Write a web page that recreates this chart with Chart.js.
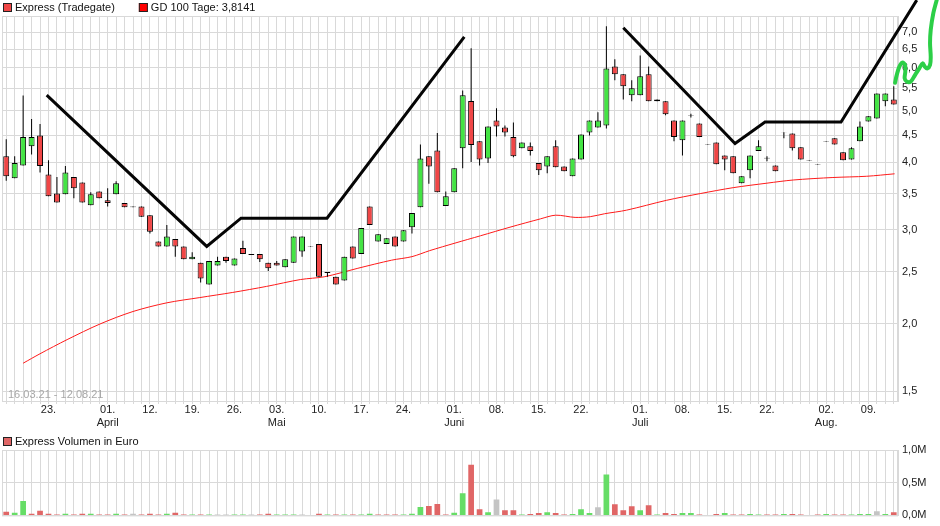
<!DOCTYPE html>
<html>
<head>
<meta charset="utf-8">
<script src="https://cdn.jsdelivr.net/npm/chart.js@4.4.0/dist/chart.umd.min.js"></script>
<style>
  body { margin: 0; background: #fff; }
  canvas { display: block; }
</style>
</head>
<body>
<canvas id="priceChart" width="940" height="432"></canvas>
<canvas id="volumeChart" width="940" height="94"></canvas>
<script>
// Trading days (Tradegate), 16.03.21 - 12.08.21
const days = [
  "16.03","17.03","18.03","19.03","22.03","23.03","24.03","25.03","26.03","29.03","30.03","31.03",
  "01.04","06.04","07.04","08.04","09.04","12.04","13.04","14.04","15.04","16.04","19.04","20.04","21.04","22.04","23.04","26.04","27.04","28.04","29.04","30.04",
  "03.05","04.05","05.05","06.05","07.05","10.05","11.05","12.05","13.05","14.05","17.05","18.05","19.05","20.05","21.05","24.05","25.05","26.05","27.05","28.05","31.05",
  "01.06","02.06","03.06","04.06","07.06","08.06","09.06","10.06","11.06","14.06","15.06","16.06","17.06","18.06","21.06","22.06","23.06","24.06","25.06","28.06","29.06","30.06",
  "01.07","02.07","05.07","06.07","07.07","08.07","09.07","12.07","13.07","14.07","15.07","16.07","19.07","20.07","21.07","22.07","23.07","26.07","27.07","28.07","29.07","30.07",
  "02.08","03.08","04.08","05.08","06.08","09.08","10.08","11.08","12.08"
];

// x axis labels
const tickDays = ["23.03","01.04","12.04","19.04","26.04","03.05","10.05","17.05","24.05","01.06","08.06","15.06","22.06","01.07","08.07","15.07","22.07","02.08","09.08"];
const monthTickDays = ["01.04","03.05","01.06","01.07","02.08"];
const monthNames = ["April","Mai","Juni","Juli","Aug."];

const priceTicks = [1.5, 2.0, 2.5, 3.0, 3.5, 4.0, 4.5, 5.0, 5.5, 6.0, 6.5, 7.0];
const volumeTicks = [0, 0.5, 1.0];

// Candles (EUR)
const openPrices = [
  4.11,3.74,3.95,4.29,4.49,3.80,3.50,3.49,3.76,3.67,
  3.33,3.53,3.40,3.49,3.36,3.31,3.31,3.19,2.85,2.79,
  2.88,2.79,2.64,2.60,2.37,2.57,2.67,2.57,2.77,2.70,
  2.70,2.60,2.60,2.55,2.60,2.73,2.795,2.82,2.50,2.45,
  2.41,2.79,2.70,3.31,2.85,2.82,2.91,2.85,3.03,3.30,
  4.11,4.21,3.32,3.52,4.25,5.21,4.38,4.07,4.79,4.65,
  4.46,4.25,4.29,3.99,3.93,4.29,3.93,3.77,4.05,4.55,
  4.65,4.69,6.04,5.84,5.34,5.34,5.84,5.20,5.20,4.79,
  4.40,4.895,4.73,4.33,4.36,4.12,4.11,3.66,3.87,4.20,
  4.08,3.95,4.555,4.53,4.27,4.04,3.965,4.375,4.44,4.18,
  4.05,4.38,4.77,4.83,5.20,5.24
];
const highPrices = [
  4.42,4.11,5.33,4.82,4.72,4.04,3.76,3.94,3.76,3.67,
  3.52,3.53,3.58,3.69,3.36,3.31,3.31,3.19,2.85,3.06,
  2.88,2.79,2.72,2.60,2.62,2.67,2.67,2.65,2.86,2.70,
  2.70,2.60,2.62,2.64,2.91,2.91,2.795,2.82,2.50,2.45,
  2.67,2.79,3.02,3.31,2.94,2.89,2.91,2.99,3.22,4.32,
  4.11,4.54,3.53,3.90,5.45,6.53,4.38,4.67,5.05,4.69,
  4.75,4.36,4.36,3.99,4.11,4.40,3.93,4.07,4.51,4.79,
  4.96,7.18,6.23,5.84,5.69,6.33,6.04,5.24,5.20,4.79,
  4.79,4.93,4.73,4.33,4.36,4.12,4.11,3.77,4.12,4.40,
  4.11,3.95,4.555,4.53,4.27,4.04,3.965,4.375,4.44,4.18,
  4.27,4.77,4.88,5.38,5.38,5.55
];
const lowPrices = [
  3.70,3.74,3.95,4.14,3.83,3.46,3.37,3.49,3.43,3.37,
  3.33,3.43,3.31,3.49,3.30,3.30,3.17,2.95,2.79,2.79,
  2.67,2.64,2.64,2.39,2.37,2.57,2.60,2.57,2.70,2.69,
  2.61,2.51,2.57,2.55,2.60,2.67,2.79,2.45,2.45,2.37,
  2.41,2.65,2.70,3.06,2.85,2.82,2.79,2.85,2.95,3.30,
  3.65,3.52,3.32,3.52,3.90,4.01,3.95,3.99,4.47,4.47,
  4.09,4.25,4.12,3.79,3.82,3.92,3.85,3.77,4.05,4.49,
  4.65,4.63,5.69,5.24,5.20,5.34,5.20,5.20,4.90,4.38,
  4.12,4.85,4.46,4.32,3.97,3.87,3.82,3.66,3.74,4.20,
  4.02,3.85,4.44,4.21,4.05,4.03,3.955,4.365,4.32,4.04,
  4.05,4.38,4.77,4.83,5.09,5.13
];
const closePrices = [
  3.77,3.99,4.46,4.46,3.94,3.46,3.37,3.83,3.58,3.37,
  3.49,3.43,3.36,3.66,3.30,3.30,3.17,2.97,2.79,2.91,
  2.79,2.64,2.67,2.43,2.62,2.62,2.62,2.65,2.70,2.69,
  2.64,2.54,2.57,2.64,2.91,2.91,2.79,2.45,2.49,2.37,
  2.67,2.65,3.02,3.06,2.94,2.89,2.79,2.99,3.22,4.07,
  3.93,3.52,3.46,3.90,5.34,4.31,4.05,4.67,4.67,4.55,
  4.11,4.36,4.20,3.87,4.11,3.92,3.85,4.07,4.51,4.79,
  4.79,5.99,5.84,5.55,5.50,5.79,5.20,5.24,4.92,4.46,
  4.79,4.885,4.46,4.32,3.97,4.05,3.82,3.77,4.12,4.29,
  4.07,3.85,4.55,4.25,4.05,4.03,3.955,4.365,4.32,4.04,
  4.25,4.67,4.88,5.38,5.38,5.13
];

// GD 100 (100-day moving average), read at these trading-day positions
const maDayPos = [2.0,4.0,7.2,11.1,15.0,19.0,22.9,26.8,30.8,34.8,37.7,41.6,45.6,48.0,50.1,53.1,56.1,59.6,63.2,65.0,67.3,69.1,70.8,73.4,78.1,82.1,86.0,90.0,93.1,97.8,101.8,105.1];
const maValues = [1.69,1.76,1.87,2.00,2.11,2.19,2.24,2.29,2.35,2.42,2.45,2.54,2.63,2.67,2.74,2.83,2.92,3.03,3.14,3.19,3.16,3.17,3.21,3.26,3.40,3.50,3.59,3.66,3.71,3.75,3.77,3.81];

// Hand-drawn trend lines (trading-day position, price)
const trendOnePos = [4.79, 23.72, 27.78, 37.95, 54.19];
const trendOneVal = [5.34, 2.79, 3.15, 3.15, 6.86];
const trendTwoPos = [73.0, 86.22, 89.77, 98.76, 107.72];
const trendTwoVal = [7.13, 4.34, 4.76, 4.76, 8.03];
const squigglePos = [105.15,105.35,105.65,106.01,106.33,106.36,106.29,106.53,107.0,107.51,108.02,108.42,108.69,108.97,109.29,109.37,109.29,109.37,109.68,110.08];
const squiggleVal = [5.63,5.82,6.03,6.14,6.08,5.90,5.74,5.66,5.66,5.82,5.99,6.12,6.03,5.99,6.08,6.30,6.67,7.06,7.59,8.03];

// Volume in million EUR, colour key: g = up, r = down, n = unchanged
const volumes = [
  0.055,0.04,0.22,0.025,0.07,0.025,0.01,0.025,0.01,0.025,
  0.025,0.01,0.01,0.025,0.01,0.025,0.01,0.025,0.01,0.025,
  0.04,0.01,0.01,0.01,0.01,0.01,0.01,0.01,0.01,0.01,
  0.01,0.025,0.01,0.01,0.01,0.01,null,0.025,0.01,0.01,
  0.01,0.01,0.01,0.025,0.01,0.01,0.01,0.01,0.025,0.13,
  0.145,0.175,0.01,0.04,0.34,0.775,0.095,0.05,0.245,0.08,
  0.08,0.005,0.02,0.035,0.05,0.035,0.005,0.02,0.095,0.035,
  0.125,0.625,0.17,0.08,0.14,0.08,0.155,0.005,0.035,0.02,
  0.035,0.035,0.005,null,0.02,0.035,0.005,0.005,0.02,0.005,
  0.005,0.005,0.02,0.02,0.005,null,0.005,0.02,0.005,0.005,
  0.005,0.02,0.02,0.065,0.02,0.05
];
const volumeKeys = ("rggrrrrgrr" + "grrgrnrrrg" + "rrgrgnnggn" + "rrgggn-rgr" + "grggrrrggg" +
  "rrrggrrgnr" + "rgrrgrrggg" + "ngrrrgrgrr" + "ggr-rgrrgg" + "rrgrr-rgrr" + "gggngr").split("");

const gridColor = "#d9d9d9";
const candleRed = "#f04646";
const candleGreen = "#44e444";
const volumeColorMap = { r: "#e06666", g: "#66dd66", n: "#c4c4c4", "-": "#c4c4c4" };

Chart.defaults.font.family = "'Liberation Sans', Arial, sans-serif";
Chart.defaults.font.size = 11;
Chart.defaults.color = "#222";

const dayIdx = days.map((d, i) => i);
const toPoints = (xs, ys) => xs.map((x, i) => ({ x: x, y: ys[i] }));

function dayAxis(showLabels) {
  return {
    type: "linear",
    min: -0.5,
    max: days.length - 0.5,
    offset: false,
    grid: { color: gridColor, offset: false, drawTicks: showLabels, tickLength: 3 },
    border: { color: gridColor },
    afterBuildTicks: function (scale) {
      scale.ticks = dayIdx.map((i) => ({ value: i }));
    },
    afterFit: function (scale) {
      scale.height = showLabels ? 31 : 10;
    },
    ticks: {
      display: showLabels,
      autoSkip: false,
      maxRotation: 0,
      minRotation: 0,
      padding: 0,
      color: "#222",
      font: { lineHeight: 1.15 },
      callback: function (value) {
        const d = days[value];
        if (!tickDays.includes(d)) return "";
        const label = d.split(".")[0] + ".";
        const m = monthTickDays.indexOf(d);
        return m >= 0 ? [label, monthNames[m]] : label;
      },
    },
  };
}

// Frame around the plot area
const framePlugin = {
  id: "frame",
  beforeDatasetsDraw: function (chart) {
    const a = chart.chartArea;
    const ctx = chart.ctx;
    ctx.save();
    ctx.strokeStyle = gridColor;
    ctx.lineWidth = 1;
    ctx.strokeRect(a.left + 0.5, a.top + 0.5, a.right - a.left - 1, a.bottom - a.top);
    ctx.restore();
  },
};

// Small box legend in the top left corner
const boxLegendPlugin = {
  id: "boxLegend",
  afterDraw: function (chart, args, opts) {
    const ctx = chart.ctx;
    ctx.save();
    ctx.font = "11px 'Liberation Sans', Arial, sans-serif";
    ctx.textBaseline = "middle";
    let x = 3;
    opts.items.forEach(function (item) {
      ctx.fillStyle = item.color;
      ctx.fillRect(x, opts.y, 9, 9);
      ctx.strokeStyle = "#222";
      ctx.lineWidth = 1;
      ctx.strokeRect(x + 0.5, opts.y + 0.5, 8, 8);
      ctx.fillStyle = "#111";
      ctx.fillText(item.text, x + 12, opts.y + 5);
      x += 12 + ctx.measureText(item.text).width + 24;
    });
    if (opts.note) {
      const a = chart.chartArea;
      ctx.fillStyle = "#a8a8a8";
      ctx.fillText(opts.note, a.left + 6, a.bottom - 6);
    }
    ctx.restore();
  },
};

// Price chart
const priceCtx = document.getElementById("priceChart").getContext("2d");
const priceChart = new Chart(priceCtx, {
  type: "bar",
  data: {
    datasets: [
      {
        type: "line",
        label: "Trend 1",
        data: toPoints(trendOnePos, trendOneVal),
        borderColor: "#050505",
        borderWidth: 3,
        pointRadius: 0,
        tension: 0,
        clip: false,
        order: 0,
      },
      {
        type: "line",
        label: "Trend 2",
        data: toPoints(trendTwoPos, trendTwoVal),
        borderColor: "#050505",
        borderWidth: 3,
        pointRadius: 0,
        tension: 0,
        clip: false,
        order: 0,
      },
      {
        type: "line",
        label: "Squiggle",
        data: toPoints(squigglePos, squiggleVal),
        borderColor: "#2ccf47",
        borderWidth: 4,
        borderCapStyle: "round",
        borderJoinStyle: "round",
        pointRadius: 0,
        tension: 0.35,
        clip: false,
        order: 0,
      },
      {
        label: "Express (Tradegate)",
        data: dayIdx.map((i) => ({ x: i, y: [openPrices[i], closePrices[i]] })),
        backgroundColor: dayIdx.map((i) => (closePrices[i] >= openPrices[i] ? candleGreen : candleRed)),
        borderColor: "#000",
        borderWidth: 1,
        borderSkipped: false,
        grouped: false,
        maxBarThickness: 6,
        order: 1,
      },
      {
        label: "Wicks",
        data: dayIdx.map((i) => ({ x: i, y: [lowPrices[i], highPrices[i]] })),
        backgroundColor: "#000",
        borderWidth: 0,
        grouped: false,
        maxBarThickness: 1,
        order: 2,
      },
      {
        type: "line",
        label: "GD 100 Tage",
        data: toPoints(maDayPos, maValues),
        borderColor: "#ff1a1a",
        borderWidth: 1,
        pointRadius: 0,
        tension: 0.3,
        order: 3,
      },
    ],
  },
  options: {
    responsive: false,
    devicePixelRatio: 1,
    animation: false,
    events: [],
    layout: { padding: { top: 16, left: 2, right: 0, bottom: 0 } },
    plugins: {
      legend: { display: false },
      tooltip: { enabled: false },
      boxLegend: {
        y: 3,
        items: [
          { text: "Express (Tradegate)", color: candleRed },
          { text: "GD 100 Tage: 3,8141", color: "#ff0000" },
        ],
        note: "16.03.21 - 12.08.21",
      },
    },
    scales: {
      x: dayAxis(true),
      y: {
        type: "logarithmic",
        position: "right",
        min: 1.437,
        max: 7.5,
        grid: { color: gridColor, drawTicks: false },
        border: { color: gridColor },
        afterBuildTicks: function (scale) {
          scale.ticks = priceTicks.map((v) => ({ value: v }));
        },
        afterFit: function (scale) {
          scale.width = 42;
        },
        ticks: {
          autoSkip: false,
          padding: 4,
          color: "#222",
          callback: function (value) {
            return Number(value).toFixed(1).replace(".", ",");
          },
        },
      },
    },
  },
  plugins: [framePlugin, boxLegendPlugin],
});

// Volume chart
const volumeCtx = document.getElementById("volumeChart").getContext("2d");
const volumeChart = new Chart(volumeCtx, {
  type: "bar",
  data: {
    datasets: [
      {
        label: "Express Volumen in Euro",
        data: dayIdx.map((i) => ({ x: i, y: volumes[i] })),
        backgroundColor: volumeKeys.map((k) => volumeColorMap[k]),
        borderWidth: 0,
        grouped: false,
        maxBarThickness: 5.7,
        minBarLength: 1,
      },
    ],
  },
  options: {
    responsive: false,
    devicePixelRatio: 1,
    animation: false,
    events: [],
    layout: { padding: { top: 18, left: 2, right: 0, bottom: 0 } },
    plugins: {
      legend: { display: false },
      tooltip: { enabled: false },
      boxLegend: {
        y: 5,
        items: [{ text: "Express Volumen in Euro", color: "#e06666" }],
      },
    },
    scales: {
      x: dayAxis(false),
      y: {
        type: "linear",
        position: "right",
        min: 0,
        max: 1.0,
        grid: { color: gridColor, drawTicks: false },
        border: { color: gridColor },
        afterBuildTicks: function (scale) {
          scale.ticks = volumeTicks.map((v) => ({ value: v }));
        },
        afterFit: function (scale) {
          scale.width = 42;
        },
        ticks: {
          autoSkip: false,
          padding: 4,
          color: "#222",
          callback: function (value) {
            return Number(value).toFixed(1).replace(".", ",") + "M";
          },
        },
      },
    },
  },
  plugins: [framePlugin, boxLegendPlugin],
});
</script>
</body>
</html>
